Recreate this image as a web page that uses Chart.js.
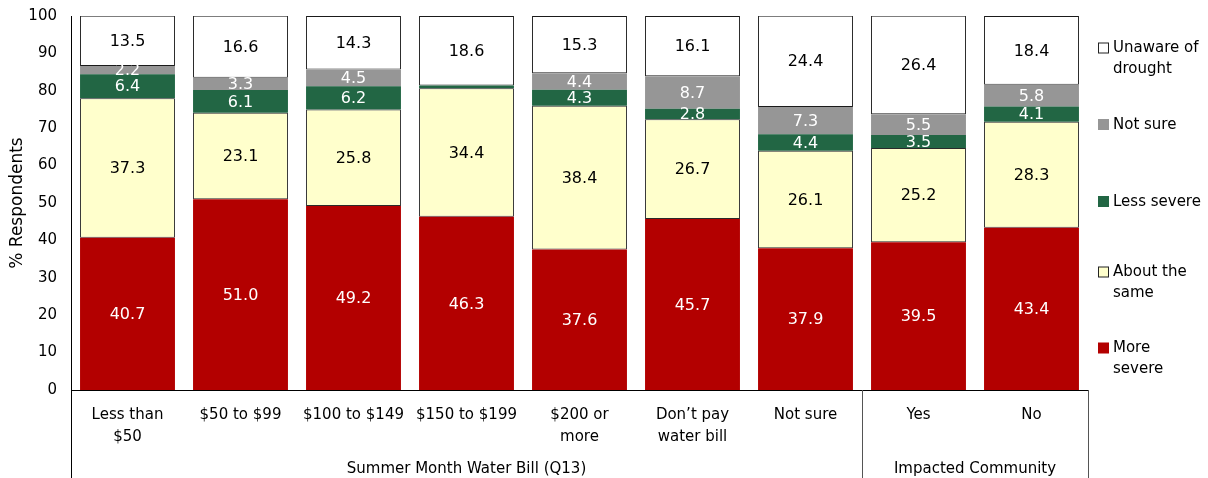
<!DOCTYPE html>
<html>
<head>
<meta charset="utf-8">
<script src="https://cdn.jsdelivr.net/npm/chart.js@4.4.1/dist/chart.umd.min.js"></script>
<style>
  html, body { margin: 0; padding: 0; background: #fff; }
  #wrap { width: 1208px; height: 478px; position: relative; }
</style>
</head>
<body>
<div id="wrap"><canvas id="c" width="1208" height="478"></canvas></div>
<script>
// ---- data ----
const categories = [
  ['Less than', '$50'], '$50 to $99', '$100 to $149', '$150 to $199',
  ['$200 or', 'more'], ['Don\u2019t pay', 'water bill'], 'Not sure', 'Yes', 'No'
];
const moreSevere   = [40.7, 51.0, 49.2, 46.3, 37.6, 45.7, 37.9, 39.5, 43.4];
const aboutSame    = [37.3, 23.1, 25.8, 34.4, 38.4, 26.7, 26.1, 25.2, 28.3];
const lessSevere   = [6.4, 6.1, 6.2, 0.7, 4.3, 2.8, 4.4, 3.5, 4.1];
const notSure      = [2.2, 3.3, 4.5, 0.0, 4.4, 8.7, 7.3, 5.5, 5.8];
const unaware      = [13.5, 16.6, 14.3, 18.6, 15.3, 16.1, 24.4, 26.4, 18.4];
const seriesNames  = ['More severe', 'About the same', 'Less severe', 'Not sure', 'Unaware of drought'];
const legendLines  = [['More', 'severe'], ['About the', 'same'], ['Less severe'], ['Not sure'], ['Unaware of', 'drought']];
const groups = [
  { label: 'Summer Month Water Bill (Q13)', from: 0, to: 6 },
  { label: 'Impacted Community', from: 7, to: 8 }
];
const yTicks = [0, 10, 20, 30, 40, 50, 60, 70, 80, 90, 100];

const FONT = '"DejaVu Sans", Verdana, sans-serif';

const styles = [
  { bg: '#B30000', border: '#B30000', bw: 0, label: '#ffffff' },
  { bg: '#FFFFCC', border: '#2a2a2a', bw: 1, label: '#000000' },
  { bg: '#226644', border: '#226644', bw: 0, label: '#ffffff' },
  { bg: '#969696', border: '#969696', bw: 0, label: '#ffffff' },
  { bg: '#FFFFFF', border: '#1a1a1a', bw: 1, label: '#000000' }
];
const seriesData = [moreSevere, aboutSame, lessSevere, notSure, unaware];

const datasets = seriesData.map((d, i) => ({
  label: seriesNames[i],
  data: d,
  backgroundColor: styles[i].bg,
  borderColor: styles[i].border,
  borderWidth: styles[i].bw,
  borderSkipped: false,
  barPercentage: 0.84,
  categoryPercentage: 1.0,
  labelColor: styles[i].label
}));

const valueLabels = {
  id: 'valueLabels',
  afterDatasetsDraw(chart) {
    const ctx = chart.ctx;
    ctx.save();
    ctx.font = '16px ' + FONT;
    ctx.textAlign = 'center';
    ctx.textBaseline = 'middle';
    chart.data.datasets.forEach((ds, di) => {
      const meta = chart.getDatasetMeta(di);
      meta.data.forEach((el, i) => {
        const v = ds.data[i];
        if (v < 1) return;
        const p = el.getProps(['x', 'y', 'base'], true);
        ctx.fillStyle = ds.labelColor;
        ctx.fillText(v.toFixed(1), p.x, (p.y + p.base) / 2 + 1);
      });
    });
    ctx.restore();
  }
};

const groupAxis = {
  id: 'groupAxis',
  afterDraw(chart) {
    const ctx = chart.ctx;
    const ca = chart.chartArea;
    const xs = chart.scales.x;
    const half = (xs.getPixelForValue(1) - xs.getPixelForValue(0)) / 2;
    const bottom = chart.height;
    ctx.save();
    ctx.lineWidth = 1;
    const bounds = [ca.left];
    groups.forEach(g => bounds.push(xs.getPixelForValue(g.to) + half));
    bounds.forEach((bx, k) => {
      const x = Math.round(bx) + 0.5;
      ctx.strokeStyle = k === 0 ? '#000' : '#555';
      ctx.beginPath();
      ctx.moveTo(x, ca.bottom);
      ctx.lineTo(x, bottom);
      ctx.stroke();
    });
    ctx.font = '15px ' + FONT;
    ctx.fillStyle = '#000';
    ctx.textAlign = 'center';
    ctx.textBaseline = 'middle';
    groups.forEach(g => {
      const l = xs.getPixelForValue(g.from) - half;
      const r = xs.getPixelForValue(g.to) + half;
      ctx.fillText(g.label, (l + r) / 2, ca.bottom + 79);
    });
    // legend
    const legendCenters = [358, 282, 201, 124, 58];
    const lx = ca.right + 10;
    legendLines.forEach((lines, i) => {
      const lh = 21;
      const cy = legendCenters[i] - 16 + ca.top;
      const y0 = cy - (lines.length - 1) * lh / 2;
      ctx.fillStyle = styles[i].bg;
      ctx.fillRect(lx + 0.5, y0 - 5 + 0.5, 10, 10);
      ctx.strokeStyle = styles[i].bw ? '#222' : styles[i].bg;
      ctx.strokeRect(lx + 0.5, y0 - 5 + 0.5, 10, 10);
      ctx.fillStyle = '#000';
      ctx.textAlign = 'left';
      lines.forEach((t, k) => ctx.fillText(t, lx + 15, y0 + k * lh + 1));
    });
    ctx.restore();
  }
};

new Chart(document.getElementById('c'), {
  type: 'bar',
  data: { labels: categories, datasets },
  options: {
    responsive: false,
    animation: false,
    devicePixelRatio: 1,
    layout: { padding: { left: 0, top: 16, right: 120, bottom: 0 } },
    plugins: { legend: { display: false }, tooltip: { enabled: false } },
    scales: {
      x: {
        stacked: true,
        grid: { display: false, drawTicks: false },
        border: { display: true, color: '#000', width: 1 },
        ticks: {
          color: '#000',
          font: { family: FONT, size: 15, lineHeight: 1.45 },
          padding: 14,
          maxRotation: 0,
          autoSkip: false
        },
        afterFit(s) { s.height = 88; s.paddingLeft = 0; s.paddingRight = 0; }
      },
      y: {
        stacked: true,
        min: 0,
        max: 100,
        afterBuildTicks(s) { s.ticks = yTicks.map(v => ({ value: v })); },
        grid: { display: false, drawTicks: false },
        border: { display: true, color: '#000', width: 1 },
        ticks: {
          color: '#000',
          font: { family: FONT, size: 15 },
          padding: 14
        },
        title: {
          display: true,
          text: '% Respondents',
          color: '#000',
          font: { family: FONT, size: 17 },
          padding: { top: 7, bottom: 0 }
        },
        afterFit(s) { s.width = 71; s.paddingTop = 0; s.paddingBottom = 0; }
      }
    }
  },
  plugins: [valueLabels, groupAxis]
});
</script>
</body>
</html>
